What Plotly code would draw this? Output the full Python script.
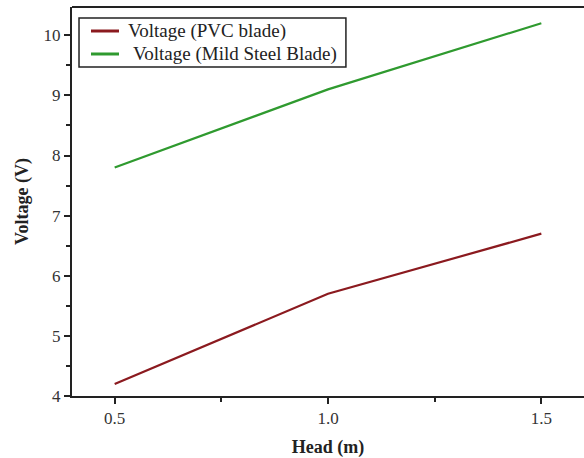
import plotly.graph_objects as go

head = [0.5, 1.0, 1.5]
v_pvc = [4.2, 5.7, 6.7]
v_steel = [7.8, 9.1, 10.2]
x_ticks = [0.5, 1.0, 1.5]
x_ticklabels = ["0.5", "1.0", "1.5"]
y_ticks = [4, 5, 6, 7, 8, 9, 10]
series_names = ["Voltage (PVC blade)", "Voltage (Mild Steel Blade)"]
series_colors = ["#8b1a1f", "#2f9a2f"]

font = "Liberation Serif, Times New Roman, serif"

fig = go.Figure()
fig.add_trace(go.Scatter(x=head, y=v_pvc, mode="lines", name=series_names[0],
                         line=dict(color=series_colors[0], width=2.2), showlegend=False))
fig.add_trace(go.Scatter(x=head, y=v_steel, mode="lines", name=series_names[1],
                         line=dict(color=series_colors[1], width=2.2), showlegend=False))

# Compact legend box (drawn in paper coordinates)
shapes = [
    dict(type="line", xref="paper", yref="paper", x0=0, x1=1, y0=1, y1=1,
         line=dict(color="#222", width=2)),
    dict(type="rect", xref="paper", yref="paper", x0=0.0137, x1=0.535, y0=0.8458, y1=0.9717,
         line=dict(color="#222", width=1.5), fillcolor="white", layer="above"),
]
annotations = []
leg_y = [0.9383, 0.8792]
txt_x = [0.1055, 0.1155]
for i, name in enumerate(series_names):
    shapes.append(dict(type="line", xref="paper", yref="paper", x0=0.0371, x1=0.0918,
                       y0=leg_y[i], y1=leg_y[i], line=dict(color=series_colors[i], width=3),
                       layer="above"))
    annotations.append(dict(xref="paper", yref="paper", x=txt_x[i], y=leg_y[i],
                            xanchor="left", yanchor="middle", text=name, showarrow=False,
                            font=dict(family=font, size=19, color="#222")))

fig.update_layout(
    width=584, height=458,
    margin=dict(l=72, r=0, t=7, b=62),
    paper_bgcolor="white", plot_bgcolor="white",
    font=dict(family=font, size=17, color="#222"),
    showlegend=False,
    xaxis=dict(range=[0.4, 1.6], tickvals=x_ticks, ticktext=x_ticklabels,
               showgrid=False, zeroline=False, showline=True, linecolor="#222", linewidth=2,
               ticks="outside", ticklen=6, tickwidth=2, tickcolor="#222",
               tickfont=dict(family=font, size=17, color="#333"),
               minor=dict(tickvals=[0.75, 1.25], ticks="outside", ticklen=4, tickwidth=2, tickcolor="#222"),
               title=dict(text="<b>Head (m)</b>", font=dict(family=font, size=18), standoff=14)),
    yaxis=dict(range=[4, 10.47], tickvals=y_ticks,
               showgrid=False, zeroline=False, showline=True, linecolor="#222", linewidth=2,
               ticks="outside", ticklen=6, tickwidth=2, tickcolor="#222",
               tickfont=dict(family=font, size=17, color="#333"),
               minor=dict(tickvals=[4.5, 5.5, 6.5, 7.5, 8.5, 9.5], ticks="outside", ticklen=4, tickwidth=2, tickcolor="#222"),
               title=dict(text="<b>Voltage (V)</b>", font=dict(family=font, size=18), standoff=10)),
    shapes=shapes,
    annotations=annotations,
)

fig.write_html("out.html")
